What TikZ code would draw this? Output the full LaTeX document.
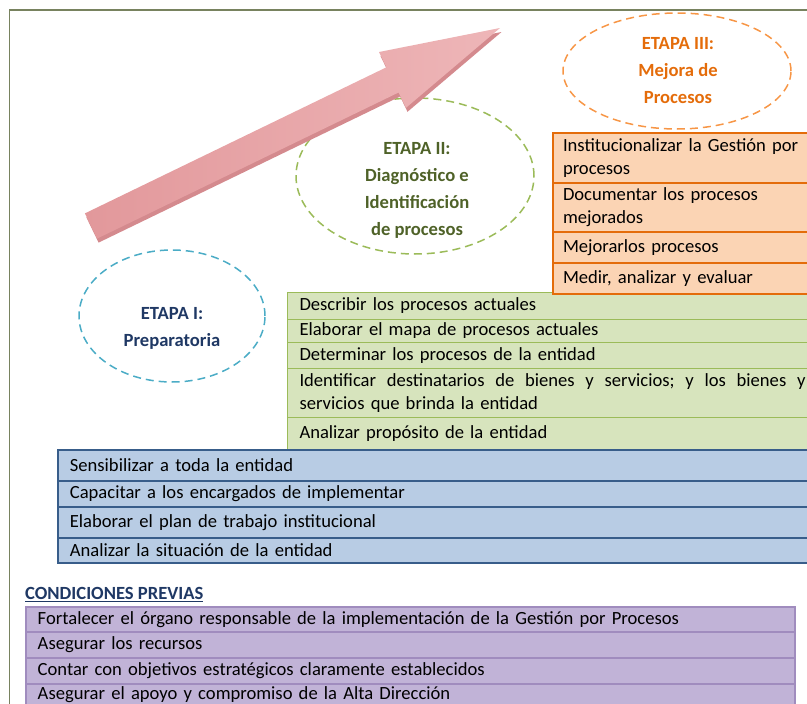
\documentclass[tikz,border=0pt]{standalone}
\usepackage{fontspec}
\setmainfont{Carlito}
\usetikzlibrary{shapes.geometric}

\definecolor{framecol}{RGB}{120,130,95}
\definecolor{arrowtail}{RGB}{226,152,155}
\definecolor{arrowmid}{RGB}{244,212,212}
\definecolor{arrowhead}{RGB}{238,182,184}
\definecolor{arrowside}{RGB}{212,138,142}
\definecolor{oneline}{RGB}{75,172,198}
\definecolor{onetext}{RGB}{31,56,100}
\definecolor{twoline}{RGB}{155,187,89}
\definecolor{twotext}{RGB}{79,98,40}
\definecolor{threeline}{RGB}{247,150,70}
\definecolor{threetext}{RGB}{228,108,10}
\definecolor{orangefill}{RGB}{251,212,180}
\definecolor{orangeline}{RGB}{228,108,10}
\definecolor{greenfill}{RGB}{215,228,189}
\definecolor{greenline}{RGB}{155,187,89}
\definecolor{bluefill}{RGB}{184,204,228}
\definecolor{blueline}{RGB}{56,93,138}
\definecolor{purplefill}{RGB}{193,179,215}
\definecolor{purpleline}{RGB}{160,140,190}

\def\arrowpath{(84.9,213.4) -- (386.4,67.3) -- (379,52) -- (500,28) -- (406,107.8) -- (398.6,92.5) -- (97.1,238.6) -- cycle}

\begin{document}
\begin{tikzpicture}[x=1pt,y=-1pt,font=\fontsize{18.6}{23}\selectfont]
\tikzstyle{stage}=[ellipse,line width=1.5,dash pattern=on 8pt off 5pt,inner sep=0]
\tikzstyle{stagetext}=[align=center,font=\fontsize{18.6}{27}\selectfont\bfseries]
\tikzstyle{row}=[anchor=north west,inner ysep=0,align=left]
\tikzstyle{orangerow}=[row,draw=orangeline,fill=orangefill,line width=2,inner xsep=10,text width=258]
\tikzstyle{greenrow}=[row,draw=greenline,fill=greenfill,line width=1,inner xsep=12,text width=520]
\tikzstyle{bluerow}=[row,draw=blueline,fill=bluefill,line width=1.8,inner xsep=12,text width=760]
\tikzstyle{purplerow}=[row,draw=purpleline,fill=purplefill,line width=1.5,inner xsep=12,text width=745]
\useasboundingbox (0,0) rectangle (807,704);
\clip (0,0) rectangle (807,704);
% frame
\draw[framecol,line width=1.5] (807,10) -- (9.5,10) -- (9.5,704);
% stages
\node[stage,draw=oneline,minimum width=186,minimum height=132] (e1) at (172,316) {};
\node[stagetext,text=onetext] (t1) at (172,328) {ETAPA I:\\Preparatoria};
\node[stage,draw=twoline,minimum width=238,minimum height=156] (e2) at (415,176) {};
\node[stagetext,text=twotext] (t2) at (417,190) {ETAPA II:\\Diagnóstico e\\Identificación\\de procesos};
\node[stage,draw=threeline,minimum width=228,minimum height=116] (e3) at (677,71) {};
\node[stagetext,text=threetext] (t3) at (678,71) {ETAPA III:\\Mejora de\\Procesos};
% arrow
\fill[arrowside,shift={(1.5,4)}] \arrowpath;
\shade[left color=arrowtail,middle color=arrowmid,right color=arrowhead] \arrowpath;
% etapa II
\node[greenrow,minimum height=27] (g1) at (287,292) {Describir los procesos actuales};
\node[greenrow,minimum height=23] (g2) at (287,319) {Elaborar el mapa de procesos actuales};
\node[greenrow,minimum height=26] (g3) at (287,342) {Determinar los procesos de la entidad};
\node[greenrow,minimum height=49] (g4) at (287,368) {\makebox[506pt][l]{Identificar\hfill destinatarios\hfill de\hfill bienes\hfill y\hfill servicios;\hfill y\hfill los\hfill bienes\hfill y}\\servicios que brinda la entidad};
\node[greenrow,minimum height=32] (g5) at (287,417) {Analizar propósito de la entidad};
% etapa III
\node[orangerow,minimum height=50] (o1) at (552,132) {Institucionalizar la Gestión por\\procesos};
\node[orangerow,minimum height=49] (o2) at (552,182) {Documentar los procesos\\mejorados};
\node[orangerow,minimum height=31] (o3) at (552,231) {Mejorarlos procesos};
\node[orangerow,minimum height=31] (o4) at (552,262) {Medir, analizar y evaluar};
% etapa I
\node[bluerow,minimum height=31] (b1) at (57,449) {Sensibilizar a toda la entidad};
\node[bluerow,minimum height=26] (b2) at (57,480) {Capacitar a los encargados de implementar};
\node[bluerow,minimum height=31] (b3) at (57,506) {Elaborar el plan de trabajo institucional};
\node[bluerow,minimum height=25] (b4) at (57,537) {Analizar la situación de la entidad};
% condiciones previas
\node[anchor=base west,inner sep=0,text=onetext,font=\fontsize{18.6}{23}\selectfont\bfseries] (cp) at (25,599.5) {\underline{CONDICIONES PREVIAS}};
\node[purplerow,minimum height=25] (p1) at (25,606) {Fortalecer el órgano responsable de la implementación de la Gestión por Procesos};
\node[purplerow,minimum height=26] (p2) at (25,631) {Asegurar los recursos};
\node[purplerow,minimum height=26] (p3) at (25,657) {Contar con objetivos estratégicos claramente establecidos};
\node[purplerow,minimum height=22] (p4) at (25,683) {Asegurar el apoyo y compromiso de la Alta Dirección};
\end{tikzpicture}
\end{document}
